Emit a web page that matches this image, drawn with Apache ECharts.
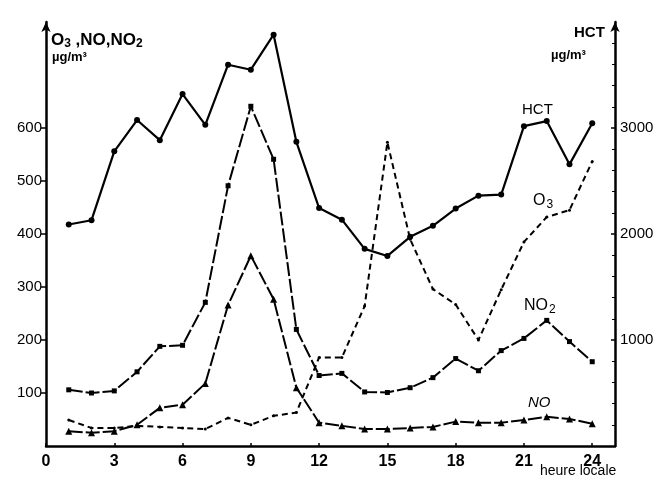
<!DOCTYPE html>
<html><head><meta charset="utf-8">
<script src="https://cdn.jsdelivr.net/npm/echarts@6/dist/echarts.min.js"></script>
<style>html,body{margin:0;padding:0;background:#fff}#c{width:661px;height:484px}</style>
</head><body><div id="c"></div>
<script>
const hours = [1,2,3,4,5,6,7,8,9,10,11,12,13,14,15,16,17,18,19,20,21,22,23,24];
const hct = [2090,2130,2780,3075,2885,3320,3030,3597,3550,3880,2870,2245,2135,1860,1793,1973,2077,2240,2362,2372,3017,3065,2657,3045];
const no2 = [106,100,104,140,188,190,271,491,641,541,220,133,137,102,101,110,129,165,142,180,203,237,197,159];
const no  = [28,25,28,40,72,78,118,266,359,277,110,44,38,32,32,34,36,46,44,44,49,55,51,42];
const o3  = [49,34,34,38,36,34,32,53,40,57,63,167,167,264,573,390,296,267,200,295,385,432,445,537];
const xTicks = [0,3,6,9,12,15,18,21,24];
const leftTicks = [100,200,300,400,500,600];
const rightTicks = [1000,2000,3000];

const pairs = a => hours.map((h,i)=>[h,a[i]]);
const FONT = 'Liberation Sans';
const chart = echarts.init(document.getElementById('c'));
chart.setOption({
  animation:false,
  backgroundColor:'#fff',
  grid:{left:46, right:46, top:22, bottom:38},
  xAxis:{type:'value', min:0, max:25, interval:3,
    axisLine:{show:true, onZero:false, lineStyle:{color:'#000', width:2.5}},
    axisTick:{show:true, inside:true, length:3, customValues:xTicks, lineStyle:{color:'#000', width:1.5}},
    axisLabel:{customValues:xTicks, formatter:v=>String(v), color:'#000', fontFamily:FONT, fontSize:16, fontWeight:'bold', margin:8},
    splitLine:{show:false}},
  yAxis:[
    {type:'value', min:0, max:800, interval:100, position:'left',
      axisLine:{show:true, symbol:['none','arrow'], symbolSize:[7,10], lineStyle:{color:'#000', width:2.5}},
      axisTick:{show:true, length:5, customValues:leftTicks, lineStyle:{color:'#000', width:1.5}},
      axisLabel:{customValues:leftTicks, formatter:v=>String(v), color:'#000', fontFamily:FONT, fontSize:15, margin:4},
      splitLine:{show:false}},
    {type:'value', min:0, max:4000, interval:1000, position:'right',
      axisLine:{show:true, symbol:['none','arrow'], symbolSize:[7,10], lineStyle:{color:'#000', width:2.5}},
      axisTick:{show:true, inside:true, length:4, customValues:rightTicks, lineStyle:{color:'#000', width:1.5}},
      minorTick:{show:true, splitNumber:5, length:3, lineStyle:{color:'#000', width:1}},
      axisLabel:{customValues:rightTicks, formatter:v=>String(v), color:'#000', fontFamily:FONT, fontSize:15, margin:5},
      splitLine:{show:false}}
  ],
  series:[
    {name:'HCT', type:'line', yAxisIndex:1, data:pairs(hct), symbol:'circle', symbolSize:6,
      lineStyle:{color:'#000', width:2.2}, itemStyle:{color:'#000'}},
    {name:'NO2', type:'line', yAxisIndex:0, data:pairs(no2), symbol:'rect', symbolSize:5,
      lineStyle:{color:'#000', width:2, type:[14,3]}, itemStyle:{color:'#000'}},
    {name:'NO', type:'line', yAxisIndex:0, data:pairs(no), symbol:'triangle', symbolSize:7,
      lineStyle:{color:'#000', width:2, type:[14,3]}, itemStyle:{color:'#000'}},
    {name:'O3', type:'line', yAxisIndex:0, data:pairs(o3), symbol:'circle', symbolSize:3,
      lineStyle:{color:'#000', width:2, type:[6,4]}, itemStyle:{color:'#000'}}
  ],
  graphic:[
    {type:'text', left:51, top:30, style:{text:'{a|O}{s|3}{a| ,NO,NO}{s|2}', fill:'#000',
      rich:{a:{fontFamily:FONT, fontSize:17, fontWeight:'bold', fill:'#000', lineHeight:20},
            s:{fontFamily:FONT, fontSize:12, fontWeight:'bold', fill:'#000', padding:[8,0,0,0], lineHeight:20}}}},
    {type:'text', left:52, top:51, style:{text:'µg/m³', font:'bold 13px "Liberation Sans"', fill:'#000'}},
    {type:'text', left:574, top:25, style:{text:'HCT', font:'bold 15px "Liberation Sans"', fill:'#000'}},
    {type:'text', left:551, top:49, style:{text:'µg/m³', font:'bold 13px "Liberation Sans"', fill:'#000'}},
    {type:'text', left:522, top:102, style:{text:'HCT', font:'15px "Liberation Sans"', fill:'#000'}},
    {type:'text', left:533, top:191, style:{text:'{a|O}{s|3}', rich:{a:{font:'16px "Liberation Sans"', fill:'#000', lineHeight:20}, s:{font:'12px "Liberation Sans"', fill:'#000', padding:[8,0,0,1], lineHeight:20}}}},
    {type:'text', left:524, top:296, style:{text:'{a|NO}{s|2}', rich:{a:{font:'16px "Liberation Sans"', fill:'#000', lineHeight:20}, s:{font:'12px "Liberation Sans"', fill:'#000', padding:[8,0,0,1], lineHeight:20}}}},
    {type:'text', left:528, top:395, style:{text:'NO', font:'italic 15px "Liberation Sans"', fill:'#000'}},
    {type:'text', left:540, top:464, style:{text:'heure locale', font:'14px "Liberation Sans"', fill:'#000'}}
  ]
});
</script></body></html>
